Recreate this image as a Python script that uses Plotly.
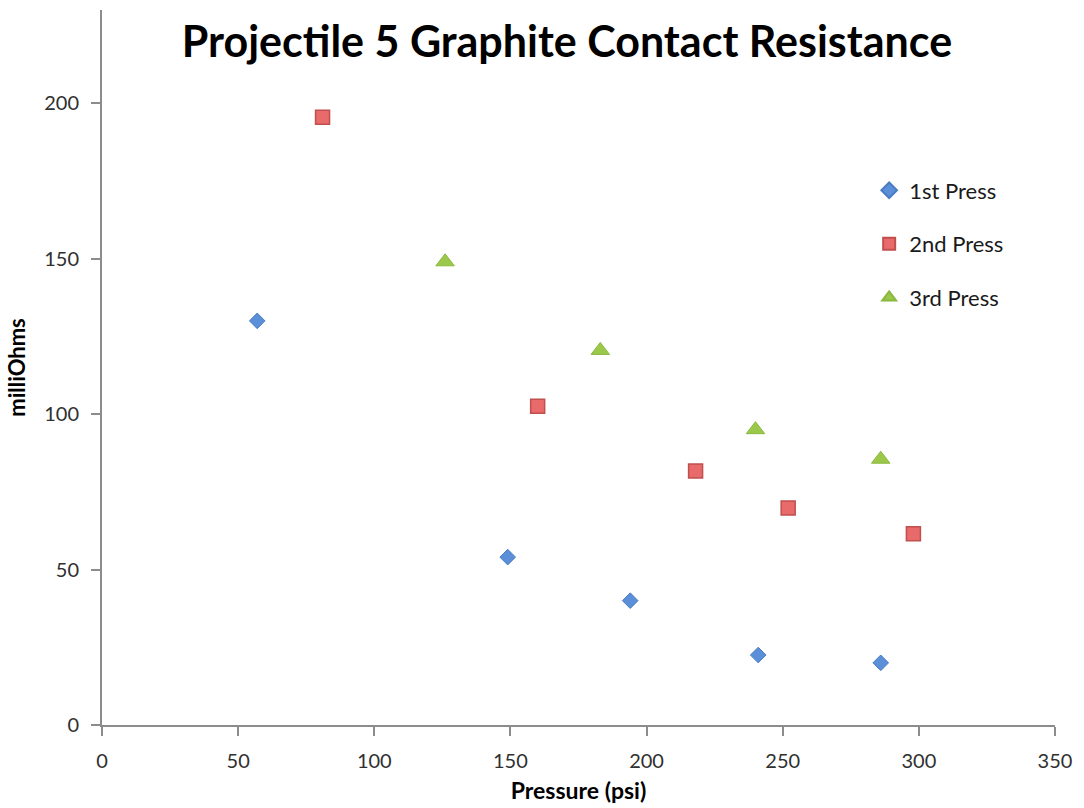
import plotly.graph_objects as go

# Contact resistance readings (milliOhms) against applied pressure (psi)
press1_psi = [57, 149, 194, 241, 286]
press1_mohm = [130, 54, 40, 22.5, 20]

press2_psi = [81, 160, 218, 252, 298]
press2_mohm = [195.5, 102.5, 81.7, 69.8, 61.5]

press3_psi = [126, 183, 240, 286]
press3_mohm = [149, 120.5, 95, 85.5]

x_ticks = [0, 50, 100, 150, 200, 250, 300, 350]
y_ticks = [0, 50, 100, 150, 200]

FONT = "Lato"
TEXT = "#1a1a1a"
AXIS = "#8c8c8c"

fig = go.Figure()

fig.add_trace(go.Scatter(
    x=press1_psi, y=press1_mohm, mode="markers", name="1st Press",
    legendgroup="p1",
    marker=dict(symbol="diamond", size=12, color="#5b8fd8",
                line=dict(color="#4a7cc4", width=1)),
))
fig.add_trace(go.Scatter(
    x=press2_psi, y=press2_mohm, mode="markers", name="2nd Press",
    legendgroup="p2",
    marker=dict(symbol="square", size=14, color="#e86a6a",
                line=dict(color="#c0504d", width=1.5)),
))
fig.add_trace(go.Scatter(
    x=press3_psi, y=press3_mohm, mode="markers", name="3rd Press",
    legendgroup="p3",
    marker=dict(symbol="triangle-up", size=16, color="#9bc84b",
                line=dict(color="#8ab83c", width=1)),
))

fig.update_layout(
    width=1084, height=808,
    margin=dict(l=102, r=29, t=10, b=83, autoexpand=False),
    paper_bgcolor="white", plot_bgcolor="white",
    font=dict(family=FONT, color=TEXT),
    title=dict(text="<b>Projectile 5 Graphite Contact Resistance</b>",
               font=dict(family=FONT, size=43, color="#000000"),
               x=0.523, xanchor="center", y=0.948, yanchor="middle"),
    showlegend=True,
    legend=dict(x=0.805, y=0.777, xanchor="left", yanchor="top",
                font=dict(family=FONT, size=22, color=TEXT),
                tracegroupgap=22, itemsizing="constant", itemwidth=30,
                bgcolor="rgba(0,0,0,0)"),
    xaxis=dict(
        range=[0, 350], tickvals=x_ticks, ticktext=[str(v) for v in x_ticks],
        automargin=False,
        showgrid=False, zeroline=False, showline=True, linecolor=AXIS,
        linewidth=2, ticks="outside", ticklen=9, tickwidth=2, tickcolor=AXIS,
        ticklabelstandoff=8,
        tickfont=dict(family=FONT, size=20, color="#303030"),
        title=dict(text="<b>Pressure (psi)</b>", standoff=12,
                   font=dict(family=FONT, size=23, color="#000000")),
    ),
    yaxis=dict(
        range=[0, 230], tickvals=y_ticks, ticktext=[str(v) for v in y_ticks],
        automargin=False,
        showgrid=False, zeroline=False, showline=True, linecolor=AXIS,
        linewidth=2, ticks="outside", ticklen=9, tickwidth=2, tickcolor=AXIS,
        ticklabelstandoff=8,
        tickfont=dict(family=FONT, size=20, color="#303030"),
        title=dict(text="<b>milliOhms</b>", standoff=12,
                   font=dict(family=FONT, size=22, color="#000000")),
    ),
)

fig.write_html("out.html")
